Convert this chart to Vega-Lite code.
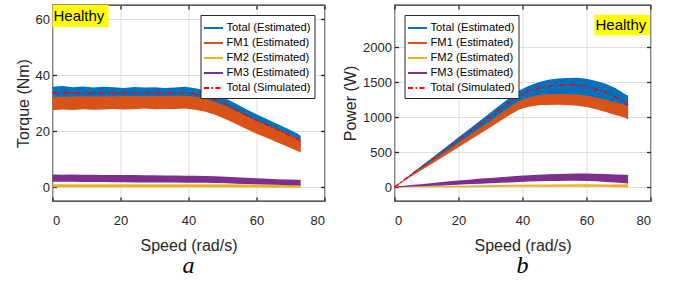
{
"$schema": "https://vega.github.io/schema/vega-lite/v6.json",
"padding": {"left": 13.5, "top": 3, "right": 5, "bottom": 0},
"background": "white",
"config": {
  "font": "Liberation Sans",
  "view": {"stroke": "#262626", "strokeWidth": 1.3},
  "axis": {"domain": false, "grid": true, "gridColor": "#DFDFDF", "gridWidth": 1, "tickColor": "#262626", "tickSize": -4, "tickWidth": 1.3, "labelFontSize": 13, "labelColor": "#262626", "titleFontSize": 16, "titleFontWeight": "normal", "titleColor": "#262626", "labelFont": "Liberation Sans", "titleFont": "Liberation Sans"},
  "axisX": {"labelPadding": 17, "titlePadding": 10},
  "axisY": {"labelPadding": 7, "titlePadding": 4},
  "legend": {"offset": 10, "strokeColor": "#262626", "strokeWidth": 1, "fillColor": "white", "padding": 4, "symbolType": "M-1.2,0H1.2", "symbolStrokeWidth": 2, "symbolSize": 250, "labelFontSize": 11.2, "labelColor": "#000000", "labelFont": "Liberation Sans", "rowPadding": 0, "labelOffset": 4},
  "title": {"font": "Liberation Serif", "fontStyle": "italic", "fontSize": 24, "fontWeight": "normal", "color": "#000000", "offset": 1}
},
"datasets": {
  "torque": [
    {"s":"Total (Estimated)","x":0,"lo":31.4,"hi":35.8},{"s":"Total (Estimated)","x":3,"lo":31.4,"hi":36.1},{"s":"Total (Estimated)","x":6,"lo":31.4,"hi":35.6},{"s":"Total (Estimated)","x":9,"lo":31.4,"hi":35.9},{"s":"Total (Estimated)","x":12,"lo":31.4,"hi":35.5},{"s":"Total (Estimated)","x":15,"lo":31.4,"hi":35.8},{"s":"Total (Estimated)","x":18,"lo":31.4,"hi":35.6},{"s":"Total (Estimated)","x":21,"lo":31.4,"hi":35.4},{"s":"Total (Estimated)","x":24,"lo":31.4,"hi":35.7},{"s":"Total (Estimated)","x":27,"lo":31.4,"hi":35.5},{"s":"Total (Estimated)","x":30,"lo":31.4,"hi":35.6},{"s":"Total (Estimated)","x":33,"lo":31.4,"hi":35.4},{"s":"Total (Estimated)","x":36,"lo":31.4,"hi":35.5},{"s":"Total (Estimated)","x":39,"lo":31.4,"hi":35.8},{"s":"Total (Estimated)","x":42,"lo":31.0,"hi":35.3},{"s":"Total (Estimated)","x":45,"lo":30.2,"hi":34.5},{"s":"Total (Estimated)","x":48,"lo":28.9,"hi":33.2},{"s":"Total (Estimated)","x":51,"lo":27.3,"hi":31.6},{"s":"Total (Estimated)","x":54,"lo":25.4,"hi":29.7},{"s":"Total (Estimated)","x":57,"lo":23.5,"hi":27.8},{"s":"Total (Estimated)","x":60,"lo":21.6,"hi":26.0},{"s":"Total (Estimated)","x":63,"lo":20.0,"hi":24.3},{"s":"Total (Estimated)","x":66,"lo":18.3,"hi":22.6},{"s":"Total (Estimated)","x":69,"lo":16.6,"hi":20.9},{"s":"Total (Estimated)","x":72,"lo":14.8,"hi":19.1},{"s":"Total (Estimated)","x":73,"lo":14.2,"hi":18.2},
    {"s":"FM1 (Estimated)","x":0,"lo":27.4,"hi":32.3},{"s":"FM1 (Estimated)","x":3,"lo":27.7,"hi":32.2},{"s":"FM1 (Estimated)","x":6,"lo":27.5,"hi":32.3},{"s":"FM1 (Estimated)","x":9,"lo":27.8,"hi":32.4},{"s":"FM1 (Estimated)","x":12,"lo":27.6,"hi":32.3},{"s":"FM1 (Estimated)","x":15,"lo":27.7,"hi":32.4},{"s":"FM1 (Estimated)","x":18,"lo":27.9,"hi":32.4},{"s":"FM1 (Estimated)","x":21,"lo":27.7,"hi":32.5},{"s":"FM1 (Estimated)","x":24,"lo":27.8,"hi":32.5},{"s":"FM1 (Estimated)","x":27,"lo":28.0,"hi":32.4},{"s":"FM1 (Estimated)","x":30,"lo":27.8,"hi":32.5},{"s":"FM1 (Estimated)","x":33,"lo":27.9,"hi":32.6},{"s":"FM1 (Estimated)","x":36,"lo":27.9,"hi":32.6},{"s":"FM1 (Estimated)","x":39,"lo":28.0,"hi":32.6},{"s":"FM1 (Estimated)","x":42,"lo":27.6,"hi":32.2},{"s":"FM1 (Estimated)","x":45,"lo":26.9,"hi":31.5},{"s":"FM1 (Estimated)","x":48,"lo":25.7,"hi":30.3},{"s":"FM1 (Estimated)","x":51,"lo":24.2,"hi":28.9},{"s":"FM1 (Estimated)","x":54,"lo":22.5,"hi":27.1},{"s":"FM1 (Estimated)","x":57,"lo":20.7,"hi":25.4},{"s":"FM1 (Estimated)","x":60,"lo":19.0,"hi":23.7},{"s":"FM1 (Estimated)","x":63,"lo":17.6,"hi":22.2},{"s":"FM1 (Estimated)","x":66,"lo":16.0,"hi":20.6},{"s":"FM1 (Estimated)","x":69,"lo":14.5,"hi":19.1},{"s":"FM1 (Estimated)","x":72,"lo":12.9,"hi":17.4},{"s":"FM1 (Estimated)","x":73,"lo":12.3,"hi":16.8},
    {"s":"FM2 (Estimated)","x":0,"lo":-0.1,"hi":1.0},{"s":"FM2 (Estimated)","x":48,"lo":-0.1,"hi":1.0},{"s":"FM2 (Estimated)","x":60,"lo":-0.18,"hi":0.92},{"s":"FM2 (Estimated)","x":73,"lo":-0.25,"hi":0.85},
    {"s":"FM3 (Estimated)","x":0,"lo":1.9,"hi":4.5},{"s":"FM3 (Estimated)","x":3,"lo":1.9,"hi":4.4},{"s":"FM3 (Estimated)","x":6,"lo":1.85,"hi":4.45},{"s":"FM3 (Estimated)","x":9,"lo":1.8,"hi":4.35},{"s":"FM3 (Estimated)","x":12,"lo":1.8,"hi":4.4},{"s":"FM3 (Estimated)","x":15,"lo":1.75,"hi":4.3},{"s":"FM3 (Estimated)","x":18,"lo":1.7,"hi":4.3},{"s":"FM3 (Estimated)","x":21,"lo":1.7,"hi":4.25},{"s":"FM3 (Estimated)","x":24,"lo":1.65,"hi":4.25},{"s":"FM3 (Estimated)","x":27,"lo":1.65,"hi":4.2},{"s":"FM3 (Estimated)","x":30,"lo":1.6,"hi":4.2},{"s":"FM3 (Estimated)","x":33,"lo":1.6,"hi":4.15},{"s":"FM3 (Estimated)","x":36,"lo":1.6,"hi":4.1},{"s":"FM3 (Estimated)","x":39,"lo":1.55,"hi":4.05},{"s":"FM3 (Estimated)","x":42,"lo":1.55,"hi":4.0},{"s":"FM3 (Estimated)","x":45,"lo":1.5,"hi":3.9},{"s":"FM3 (Estimated)","x":48,"lo":1.4,"hi":3.8},{"s":"FM3 (Estimated)","x":51,"lo":1.35,"hi":3.65},{"s":"FM3 (Estimated)","x":54,"lo":1.2,"hi":3.5},{"s":"FM3 (Estimated)","x":57,"lo":1.1,"hi":3.3},{"s":"FM3 (Estimated)","x":60,"lo":0.95,"hi":3.15},{"s":"FM3 (Estimated)","x":63,"lo":0.85,"hi":2.95},{"s":"FM3 (Estimated)","x":66,"lo":0.8,"hi":2.8},{"s":"FM3 (Estimated)","x":69,"lo":0.65,"hi":2.65},{"s":"FM3 (Estimated)","x":72,"lo":0.6,"hi":2.55},{"s":"FM3 (Estimated)","x":73,"lo":0.55,"hi":2.5},
    {"s":"Total (Simulated)","x":0,"y":33.6},{"s":"Total (Simulated)","x":39,"y":33.6},{"s":"Total (Simulated)","x":42,"y":33.2},{"s":"Total (Simulated)","x":45,"y":32.4},{"s":"Total (Simulated)","x":48,"y":31.1},{"s":"Total (Simulated)","x":51,"y":29.5},{"s":"Total (Simulated)","x":54,"y":27.6},{"s":"Total (Simulated)","x":57,"y":25.7},{"s":"Total (Simulated)","x":60,"y":23.8},{"s":"Total (Simulated)","x":63,"y":22.2},{"s":"Total (Simulated)","x":66,"y":20.5},{"s":"Total (Simulated)","x":69,"y":18.8},{"s":"Total (Simulated)","x":72,"y":17.0},{"s":"Total (Simulated)","x":73,"y":16.4}
  ],
  "power": [
    {"s":"Total (Estimated)","x":0,"lo":-3,"hi":8},{"s":"Total (Estimated)","x":3,"lo":93,"hi":107},{"s":"Total (Estimated)","x":6,"lo":185,"hi":213},{"s":"Total (Estimated)","x":9,"lo":277,"hi":320},{"s":"Total (Estimated)","x":12,"lo":369,"hi":426},{"s":"Total (Estimated)","x":15,"lo":462,"hi":533},{"s":"Total (Estimated)","x":18,"lo":555,"hi":638},{"s":"Total (Estimated)","x":21,"lo":647,"hi":745},{"s":"Total (Estimated)","x":24,"lo":739,"hi":851},{"s":"Total (Estimated)","x":27,"lo":831,"hi":958},{"s":"Total (Estimated)","x":30,"lo":924,"hi":1064},{"s":"Total (Estimated)","x":33,"lo":1017,"hi":1170},{"s":"Total (Estimated)","x":36,"lo":1109,"hi":1276},{"s":"Total (Estimated)","x":39,"lo":1200,"hi":1380},{"s":"Total (Estimated)","x":42,"lo":1250,"hi":1445},{"s":"Total (Estimated)","x":45,"lo":1290,"hi":1497},{"s":"Total (Estimated)","x":48,"lo":1311,"hi":1533},{"s":"Total (Estimated)","x":51,"lo":1314,"hi":1550},{"s":"Total (Estimated)","x":54,"lo":1309,"hi":1558},{"s":"Total (Estimated)","x":57,"lo":1295,"hi":1560},{"s":"Total (Estimated)","x":60,"lo":1267,"hi":1545},{"s":"Total (Estimated)","x":63,"lo":1224,"hi":1515},{"s":"Total (Estimated)","x":66,"lo":1170,"hi":1475},{"s":"Total (Estimated)","x":69,"lo":1097,"hi":1415},{"s":"Total (Estimated)","x":72,"lo":998,"hi":1330},{"s":"Total (Estimated)","x":73,"lo":966,"hi":1303},
    {"s":"FM1 (Estimated)","x":0,"lo":-3,"hi":3},{"s":"FM1 (Estimated)","x":3,"lo":85,"hi":95},{"s":"FM1 (Estimated)","x":6,"lo":170,"hi":190},{"s":"FM1 (Estimated)","x":9,"lo":256,"hi":284},{"s":"FM1 (Estimated)","x":12,"lo":341,"hi":379},{"s":"FM1 (Estimated)","x":15,"lo":426,"hi":474},{"s":"FM1 (Estimated)","x":18,"lo":511,"hi":569},{"s":"FM1 (Estimated)","x":21,"lo":596,"hi":664},{"s":"FM1 (Estimated)","x":24,"lo":682,"hi":758},{"s":"FM1 (Estimated)","x":27,"lo":767,"hi":853},{"s":"FM1 (Estimated)","x":30,"lo":852,"hi":948},{"s":"FM1 (Estimated)","x":33,"lo":942,"hi":1048},{"s":"FM1 (Estimated)","x":36,"lo":1027,"hi":1143},{"s":"FM1 (Estimated)","x":39,"lo":1108,"hi":1232},{"s":"FM1 (Estimated)","x":42,"lo":1148,"hi":1282},{"s":"FM1 (Estimated)","x":45,"lo":1168,"hi":1312},{"s":"FM1 (Estimated)","x":48,"lo":1173,"hi":1327},{"s":"FM1 (Estimated)","x":51,"lo":1175,"hi":1329},{"s":"FM1 (Estimated)","x":54,"lo":1170,"hi":1330},{"s":"FM1 (Estimated)","x":57,"lo":1160,"hi":1320},{"s":"FM1 (Estimated)","x":60,"lo":1142,"hi":1308},{"s":"FM1 (Estimated)","x":63,"lo":1110,"hi":1280},{"s":"FM1 (Estimated)","x":66,"lo":1073,"hi":1247},{"s":"FM1 (Estimated)","x":69,"lo":1030,"hi":1210},{"s":"FM1 (Estimated)","x":72,"lo":988,"hi":1172},{"s":"FM1 (Estimated)","x":73,"lo":972,"hi":1158},
    {"s":"FM2 (Estimated)","x":0,"lo":-4,"hi":4},{"s":"FM2 (Estimated)","x":12,"lo":-4,"hi":14},{"s":"FM2 (Estimated)","x":24,"lo":-2,"hi":22},{"s":"FM2 (Estimated)","x":36,"lo":2,"hi":32},{"s":"FM2 (Estimated)","x":48,"lo":5,"hi":37},{"s":"FM2 (Estimated)","x":60,"lo":5,"hi":38},{"s":"FM2 (Estimated)","x":66,"lo":3,"hi":36},{"s":"FM2 (Estimated)","x":73,"lo":-6,"hi":40},
    {"s":"FM3 (Estimated)","x":0,"lo":-5,"hi":5},{"s":"FM3 (Estimated)","x":3,"lo":1,"hi":17},{"s":"FM3 (Estimated)","x":6,"lo":7,"hi":31},{"s":"FM3 (Estimated)","x":9,"lo":12,"hi":44},{"s":"FM3 (Estimated)","x":12,"lo":18,"hi":58},{"s":"FM3 (Estimated)","x":15,"lo":23,"hi":71},{"s":"FM3 (Estimated)","x":18,"lo":29,"hi":85},{"s":"FM3 (Estimated)","x":21,"lo":36,"hi":96},{"s":"FM3 (Estimated)","x":24,"lo":42,"hi":108},{"s":"FM3 (Estimated)","x":27,"lo":48,"hi":120},{"s":"FM3 (Estimated)","x":30,"lo":54,"hi":130},{"s":"FM3 (Estimated)","x":33,"lo":60,"hi":140},{"s":"FM3 (Estimated)","x":36,"lo":66,"hi":150},{"s":"FM3 (Estimated)","x":39,"lo":73,"hi":159},{"s":"FM3 (Estimated)","x":42,"lo":77,"hi":167},{"s":"FM3 (Estimated)","x":45,"lo":81,"hi":175},{"s":"FM3 (Estimated)","x":48,"lo":84,"hi":182},{"s":"FM3 (Estimated)","x":51,"lo":87,"hi":187},{"s":"FM3 (Estimated)","x":54,"lo":89,"hi":191},{"s":"FM3 (Estimated)","x":57,"lo":89,"hi":193},{"s":"FM3 (Estimated)","x":60,"lo":87,"hi":193},{"s":"FM3 (Estimated)","x":63,"lo":81,"hi":191},{"s":"FM3 (Estimated)","x":66,"lo":73,"hi":187},{"s":"FM3 (Estimated)","x":69,"lo":64,"hi":180},{"s":"FM3 (Estimated)","x":72,"lo":54,"hi":174},{"s":"FM3 (Estimated)","x":73,"lo":51,"hi":171},
    {"s":"Total (Simulated)","x":0,"y":0},{"s":"Total (Simulated)","x":36,"y":1210},{"s":"Total (Simulated)","x":39,"y":1300},{"s":"Total (Simulated)","x":42,"y":1365},{"s":"Total (Simulated)","x":45,"y":1412},{"s":"Total (Simulated)","x":48,"y":1442},{"s":"Total (Simulated)","x":51,"y":1456},{"s":"Total (Simulated)","x":54,"y":1460},{"s":"Total (Simulated)","x":57,"y":1455},{"s":"Total (Simulated)","x":60,"y":1435},{"s":"Total (Simulated)","x":63,"y":1400},{"s":"Total (Simulated)","x":66,"y":1355},{"s":"Total (Simulated)","x":69,"y":1290},{"s":"Total (Simulated)","x":72,"y":1200},{"s":"Total (Simulated)","x":73,"y":1170}
  ]
},
"spacing": 15,
"resolve": {"scale": {"color": "independent", "strokeDash": "independent"}},
"hconcat": [
  {
    "width": 272, "height": 196,
    "title": {"text": "a", "orient": "bottom"},
    "data": {"name": "torque"},
    "layer": [
      {"transform": [{"filter": "datum.s !== 'Total (Simulated)'"}],
       "mark": {"type": "area", "opacity": 1},
       "encoding": {
         "x": {"field": "x", "type": "quantitative", "scale": {"domain": [0, 80]}, "axis": {"orient": "bottom", "values": [0, 20, 40, 60, 80], "title": "Speed (rad/s)"}},
         "y": {"field": "lo", "type": "quantitative", "scale": {"domain": [-5, 65]}, "axis": {"orient": "left", "values": [0, 20, 40, 60], "title": "Torque (Nm)"}},
         "y2": {"field": "hi"},
         "color": {"field": "s", "type": "nominal", "scale": {"domain": ["Total (Estimated)", "FM1 (Estimated)", "FM2 (Estimated)", "FM3 (Estimated)", "Total (Simulated)"], "range": ["#0072BD", "#D95319", "#EDB120", "#7E2F8E", "#FF0000"]}, "legend": {"title": null, "orient": "top-right"}}
       }},
      {"transform": [{"filter": "datum.s === 'Total (Simulated)'"}],
       "mark": {"type": "line", "strokeWidth": 1.5},
       "encoding": {
         "x": {"field": "x", "type": "quantitative", "axis": null},
         "y": {"field": "y", "type": "quantitative", "axis": null},
         "color": {"field": "s", "type": "nominal", "scale": {"domain": ["Total (Estimated)", "FM1 (Estimated)", "FM2 (Estimated)", "FM3 (Estimated)", "Total (Simulated)"], "range": ["#0072BD", "#D95319", "#EDB120", "#7E2F8E", "#FF0000"]}, "legend": {"title": null, "orient": "top-right"}},
         "strokeDash": {"field": "s", "type": "nominal", "scale": {"domain": ["Total (Estimated)", "FM1 (Estimated)", "FM2 (Estimated)", "FM3 (Estimated)", "Total (Simulated)"], "range": [[1, 0], [1, 0], [1, 0], [1, 0], [5, 2.5, 1.5, 2.5]]}, "legend": {"title": null, "orient": "top-right"}}
       }},
      {"data": {"values": [{"label": "Healthy"}]},
       "mark": {"type": "rect", "color": "#FFFF00"},
       "encoding": {"x": {"datum": 0, "type": "quantitative", "axis": null}, "x2": {"datum": 16.5}, "y": {"datum": 65, "type": "quantitative", "axis": null}, "y2": {"datum": 57.1}}},
      {"data": {"values": [{"label": "Healthy"}]},
       "mark": {"type": "text", "align": "left", "baseline": "middle", "fontSize": 15, "color": "#000000", "dx": 1},
       "encoding": {"x": {"datum": 0, "type": "quantitative", "axis": null}, "y": {"datum": 61, "type": "quantitative", "axis": null}, "text": {"field": "label"}}},
      {"transform": [{"filter": "datum.s === 'Total (Simulated)'"}],
       "mark": {"type": "point", "opacity": 0, "size": 1},
       "encoding": {
         "x": {"field": "x", "type": "quantitative", "axis": {"orient": "top", "labels": false, "title": null, "grid": false, "values": [0, 20, 40, 60, 80]}},
         "y": {"field": "y", "type": "quantitative", "axis": {"orient": "right", "labels": false, "title": null, "grid": false, "values": [0, 20, 40, 60]}}
       }}
    ]
  },
  {
    "width": 256, "height": 196,
    "title": {"text": "b", "orient": "bottom"},
    "data": {"name": "power"},
    "layer": [
      {"transform": [{"filter": "datum.s !== 'Total (Simulated)'"}],
       "mark": {"type": "area", "opacity": 1},
       "encoding": {
         "x": {"field": "x", "type": "quantitative", "scale": {"domain": [0, 80]}, "axis": {"orient": "bottom", "values": [0, 20, 40, 60, 80], "title": "Speed (rad/s)"}},
         "y": {"field": "lo", "type": "quantitative", "scale": {"domain": [-64, 2462]}, "axis": {"orient": "left", "values": [0, 500, 1000, 1500, 2000], "format": "d", "title": "Power (W)"}},
         "y2": {"field": "hi"},
         "color": {"field": "s", "type": "nominal", "scale": {"domain": ["Total (Estimated)", "FM1 (Estimated)", "FM2 (Estimated)", "FM3 (Estimated)", "Total (Simulated)"], "range": ["#0072BD", "#D95319", "#EDB120", "#7E2F8E", "#FF0000"]}, "legend": {"title": null, "orient": "top-left"}}
       }},
      {"transform": [{"filter": "datum.s === 'Total (Simulated)'"}],
       "mark": {"type": "line", "strokeWidth": 1.5},
       "encoding": {
         "x": {"field": "x", "type": "quantitative", "axis": null},
         "y": {"field": "y", "type": "quantitative", "axis": null},
         "color": {"field": "s", "type": "nominal", "scale": {"domain": ["Total (Estimated)", "FM1 (Estimated)", "FM2 (Estimated)", "FM3 (Estimated)", "Total (Simulated)"], "range": ["#0072BD", "#D95319", "#EDB120", "#7E2F8E", "#FF0000"]}, "legend": {"title": null, "orient": "top-left"}},
         "strokeDash": {"field": "s", "type": "nominal", "scale": {"domain": ["Total (Estimated)", "FM1 (Estimated)", "FM2 (Estimated)", "FM3 (Estimated)", "Total (Simulated)"], "range": [[1, 0], [1, 0], [1, 0], [1, 0], [5, 2.5, 1.5, 2.5]]}, "legend": {"title": null, "orient": "top-left"}}
       }},
      {"data": {"values": [{"label": "Healthy"}]},
       "mark": {"type": "rect", "color": "#FFFF00"},
       "encoding": {"x": {"datum": 62.5, "type": "quantitative", "axis": null}, "x2": {"datum": 79.8}, "y": {"datum": 2462, "type": "quantitative", "axis": null}, "y2": {"datum": 2167}}},
      {"data": {"values": [{"label": "Healthy"}]},
       "mark": {"type": "text", "align": "left", "baseline": "middle", "fontSize": 15, "color": "#000000", "dx": 1},
       "encoding": {"x": {"datum": 62.5, "type": "quantitative", "axis": null}, "y": {"datum": 2315, "type": "quantitative", "axis": null}, "text": {"field": "label"}}},
      {"transform": [{"filter": "datum.s === 'Total (Simulated)'"}],
       "mark": {"type": "point", "opacity": 0, "size": 1},
       "encoding": {
         "x": {"field": "x", "type": "quantitative", "axis": {"orient": "top", "labels": false, "title": null, "grid": false, "values": [0, 20, 40, 60, 80]}},
         "y": {"field": "y", "type": "quantitative", "axis": {"orient": "right", "labels": false, "title": null, "grid": false, "values": [0, 500, 1000, 1500, 2000]}}
       }}
    ]
  }
]
}
